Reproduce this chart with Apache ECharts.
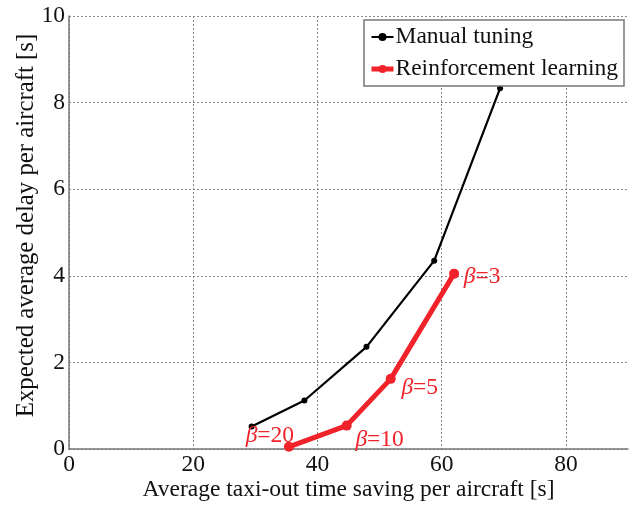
<!DOCTYPE html>
<html>
<head>
<meta charset="utf-8">
<script src="https://cdn.jsdelivr.net/npm/echarts@6/dist/echarts.min.js"></script>
<style>
  html, body { margin: 0; padding: 0; background: #fff; }
  #chart { width: 638px; height: 505px; }
</style>
</head>
<body>
<div id="chart"></div>
<script>
// Manual tuning: taxi-out time saving [s] vs expected delay [s]
const manualX = [29.4, 37.9, 47.9, 58.8, 69.4];
const manualY = [0.52, 1.12, 2.36, 4.35, 8.33];

// Reinforcement learning, one point per beta setting
const rlX = [35.4, 44.7, 51.8, 62.0];
const rlY = [0.05, 0.54, 1.62, 4.05];
const rlBeta = ['20', '10', '5', '3'];

const xTicks = [0, 20, 40, 60, 80];
const yTicks = [0, 2, 4, 6, 8, 10];

const FONT = '"Liberation Serif", "Times New Roman", serif';
const FS = 23.5;
const RED = '#f0232a';

// label offsets (px) for the beta annotations, keyed by beta
const betaOffset = { '3': [28, 3], '5': [29, 9], '10': [33, 14], '20': [-19, -11] };

const manualData = manualX.map((x, i) => [x, manualY[i]]);
const rlData = rlX.map((x, i) => ({
  value: [x, rlY[i]],
  label: {
    show: true,
    position: 'inside',
    offset: betaOffset[rlBeta[i]],
    formatter: '{b|β}{n|=' + rlBeta[i] + '}'
  }
}));

const chart = echarts.init(document.getElementById('chart'), null, { renderer: 'canvas' });
chart.setOption({
  animation: false,
  backgroundColor: '#fff',
  grid: { left: 69, top: 16, right: 10, bottom: 56, containLabel: false, outerBoundsMode: 'none' },
  legend: {
    right: 14,
    top: 20,
    orient: 'vertical',
    itemWidth: 22,
    itemHeight: 10,
    itemGap: 8,
    padding: [5, 6, 5, 5],
    backgroundColor: '#fff',
    borderColor: '#777',
    borderWidth: 1.5,
    borderRadius: 0,
    textStyle: { fontFamily: FONT, fontSize: FS, color: '#111', padding: [0, 0, 0, -3] },
    data: [
      { name: 'Manual tuning', lineStyle: { width: 2 }, itemStyle: { color: '#000' } },
      { name: 'Reinforcement learning', lineStyle: { width: 5 }, itemStyle: { color: RED } }
    ]
  },
  xAxis: {
    type: 'value',
    min: 0, max: 90, interval: 20,
    name: 'Average taxi-out time saving per aircraft [s]',
    nameLocation: 'middle',
    nameGap: 29,
    nameMoveOverlap: false,
    nameTextStyle: { fontFamily: FONT, fontSize: FS, color: '#111' },
    axisLine: { show: true, lineStyle: { color: '#777', width: 1.5 } },
    axisTick: { show: false },
    axisLabel: {
      fontFamily: FONT, fontSize: FS, color: '#111', margin: 4,
      showMaxLabel: false,
      formatter: v => (xTicks.indexOf(v) >= 0 ? String(v) : '')
    },
    splitLine: { show: true, showMaxLine: false, lineStyle: { color: '#888', type: [2, 2], width: 1 } }
  },
  yAxis: {
    type: 'value',
    min: 0, max: 10, interval: 2,
    name: 'Expected average delay per aircraft [s]',
    nameLocation: 'middle',
    nameGap: 30,
    nameMoveOverlap: false,
    nameTextStyle: { fontFamily: FONT, fontSize: 24.8, color: '#111', padding: [0, 0, 0, 14] },
    axisLine: { show: true, lineStyle: { color: '#777', width: 1.5 } },
    axisTick: { show: false },
    axisLabel: {
      fontFamily: FONT, fontSize: FS, color: '#111', margin: 4,
      formatter: v => (yTicks.indexOf(v) >= 0 ? String(v) : '')
    },
    splitLine: { show: true, lineStyle: { color: '#888', type: [2, 2], width: 1 } }
  },
  series: [
    {
      name: 'Manual tuning',
      type: 'line',
      data: manualData,
      symbol: 'circle',
      symbolSize: 6,
      lineStyle: { color: '#000', width: 2.2 },
      itemStyle: { color: '#000' },
      z: 3
    },
    {
      name: 'Reinforcement learning',
      type: 'line',
      data: rlData,
      symbol: 'circle',
      symbolSize: 10,
      lineStyle: { color: RED, width: 5 },
      itemStyle: { color: RED },
      label: {
        rich: {
          b: { fontFamily: FONT, fontSize: FS, fontStyle: 'italic', color: RED },
          n: { fontFamily: FONT, fontSize: FS, color: RED }
        }
      },
      z: 4
    }
  ]
});
</script>
</body>
</html>
